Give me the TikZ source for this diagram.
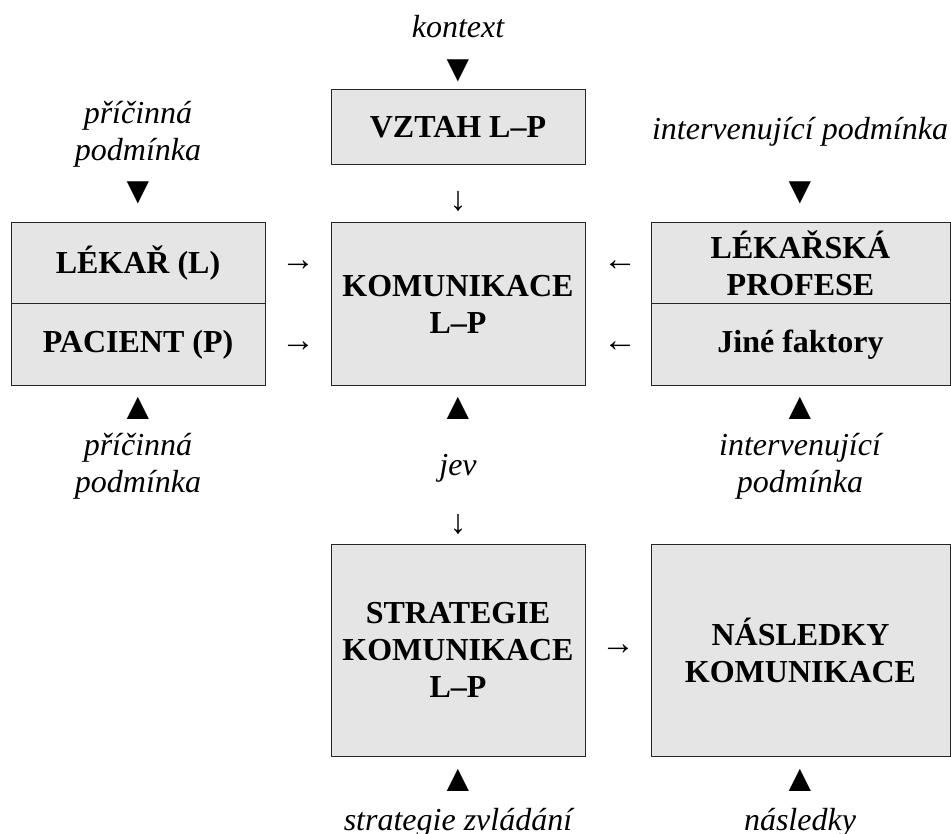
\documentclass[tikz,border=0pt]{standalone}
\usepackage{fontspec}
\setmainfont{Liberation Serif}
\newcommand{\boxfont}{\fontsize{32}{37}\selectfont\bfseries}
\newcommand{\condfont}{\fontsize{32}{37}\selectfont\itshape}
\newcommand{\arrfont}{\fontsize{34}{37}\selectfont}
\newcommand{\trifont}{\fontsize{38}{38}\selectfont}
\tikzset{
  box/.style={draw=black!85,fill=black!10,line width=1pt,inner sep=0pt,align=center,font=\boxfont},
  cond/.style={anchor=base,align=center,inner sep=0pt,font=\condfont},
  arr/.style={inner sep=0pt,font=\arrfont},
  tri/.style={inner sep=0pt,font=\trifont}
}
\begin{document}
\begin{tikzpicture}[x=1pt,y=-1pt]
\useasboundingbox (0,0) rectangle (951,834);
% boxes
\node[box,minimum width=254,minimum height=75] (vztah) at (458,127.5) {VZTAH L--P};
\node[box,minimum width=254,minimum height=81] (lekar) at (138,263.5) {LÉKAŘ (L)};
\node[box,minimum width=254,minimum height=82] (pacient) at (138,345) {PACIENT (P)};
\node[box,minimum width=254,minimum height=163] (komunikace) at (458,304.5) {KOMUNIKACE\\L--P};
\node[box,minimum width=299,minimum height=81] (profese) at (800.5,263.5) {LÉKAŘSKÁ\\PROFESE};
\node[box,minimum width=299,minimum height=82] (jine) at (800.5,345) {Jiné faktory};
\node[box,minimum width=254,minimum height=212] (strategie) at (458,650) {STRATEGIE\\KOMUNIKACE\\L--P};
\node[box,minimum width=299,minimum height=212] (nasledky) at (800.5,650) {NÁSLEDKY\\KOMUNIKACE};
% conditions (base = last line)
\node[cond] (kontext) at (458,38) {kontext};
\node[cond] (pricina1) at (138,161) {příčinná\\podmínka};
\node[cond] (interv1) at (800,140) {intervenující podmínka};
\node[cond] (pricina2) at (138,492) {příčinná\\podmínka};
\node[cond] (jev) at (458,475) {jev};
\node[cond] (interv2) at (800,492) {intervenující\\podmínka};
\node[cond] (zvladani) at (458,830) {strategie zvládání};
\node[cond] (nasl) at (800,830) {následky};
% triangles
\node[tri] (t1) at (458,71) {▼};
\node[tri] (t2) at (138,193) {▼};
\node[tri] (t3) at (800,193) {▼};
\node[tri] (t4) at (138,408) {▲};
\node[tri] (t5) at (458,408) {▲};
\node[tri] (t6) at (800,408) {▲};
\node[tri] (t7) at (458,780) {▲};
\node[tri] (t8) at (800,780) {▲};
% arrows
\node[arr] (a1) at (458,201) {↓};
\node[arr] (a2) at (298,266) {→};
\node[arr] (a3) at (298,347) {→};
\node[arr] (a4) at (620,266) {←};
\node[arr] (a5) at (620,347) {←};
\node[arr] (a6) at (458,524) {↓};
\node[arr] (a7) at (618,650) {→};
\end{tikzpicture}
\end{document}
